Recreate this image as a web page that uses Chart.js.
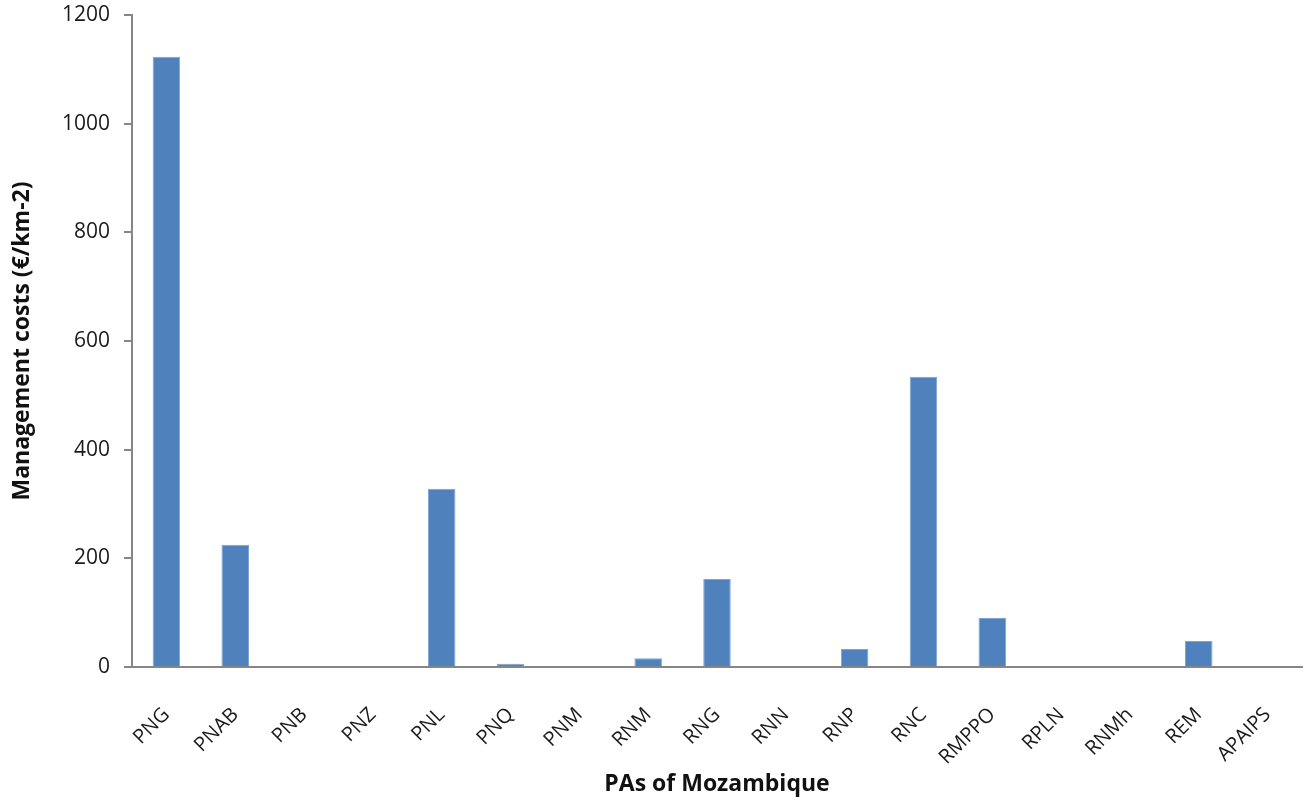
<!DOCTYPE html>
<html>
<head>
<meta charset="utf-8">
<script src="https://cdn.jsdelivr.net/npm/chart.js@4.4.0/dist/chart.umd.min.js"></script>
<style>
  html, body { margin: 0; padding: 0; background: #fff; }
  #wrap { width: 1306px; height: 802px; position: relative; }
</style>
</head>
<body>
<div id="wrap"><canvas id="chart"></canvas></div>
<script>
const areas = ["PNG", "PNAB", "PNB", "PNZ", "PNL", "PNQ", "PNM", "RNM", "RNG", "RNN",
  "RNP", "RNC", "RMPPO", "RPLN", "RNMh", "REM", "APAIPS"]
const costs = [1123, 225, 0, 0, 328, 6, 0, 16, 162, 0, 33, 534, 90, 0, 0, 48, 0]
const yTicks = [0, 200, 400, 600, 800, 1000, 1200]

const AXIS_GRAY = "#868686"
const FONT = "'Open Sans', 'Liberation Sans', sans-serif"

new Chart(document.getElementById("chart"), {
  type: "bar",
  data: {
    labels: areas,
    datasets: [
      {
        data: costs,
        backgroundColor: "#4F81BD",
        borderColor: "#7FA3D3",
        borderWidth: 1,
        barPercentage: 0.4,
        categoryPercentage: 1,
      },
    ],
  },
  options: {
    animation: false,
    responsive: true,
    maintainAspectRatio: false,
    layout: { padding: { top: 0, right: 2, left: 0, bottom: 4 } },
    plugins: {
      legend: { display: false },
      tooltip: { enabled: false },
    },
    scales: {
      x: {
        grid: { display: false },
        border: { display: true, color: AXIS_GRAY, width: 2 },
        ticks: {
          color: "#1a1a1a",
          font: { family: FONT, size: 20 },
          minRotation: 45,
          maxRotation: 45,
          padding: 28,
        },
        title: {
          display: true,
          text: "PAs of Mozambique",
          color: "#111",
          font: { family: FONT, size: 23, weight: "bold" },
          padding: { top: 6, bottom: 0 },
        },
        afterFit: (axis) => {
          axis.height = 131
          axis.paddingRight = 4
        },
      },
      y: {
        min: 0,
        max: 1200,
        afterBuildTicks: (axis) => { axis.ticks = yTicks.map((v) => ({ value: v })) },
        grid: {
          drawOnChartArea: false,
          drawTicks: true,
          tickLength: 8,
          color: AXIS_GRAY,
          lineWidth: 2,
        },
        border: { display: true, color: AXIS_GRAY, width: 2 },
        ticks: {
          color: "#1a1a1a",
          font: { family: FONT, size: 21 },
          padding: 14,
          callback: (value) => String(value),
        },
        title: {
          display: true,
          text: "Management costs (€/km-2)",
          color: "#111",
          font: { family: FONT, size: 23, weight: "bold" },
          padding: { top: 9, bottom: 0 },
        },
        afterFit: (axis) => {
          axis.width = 132
          axis.paddingTop = 15
          axis.paddingBottom = 0
        },
      },
    },
  },
})
</script>
</body>
</html>
